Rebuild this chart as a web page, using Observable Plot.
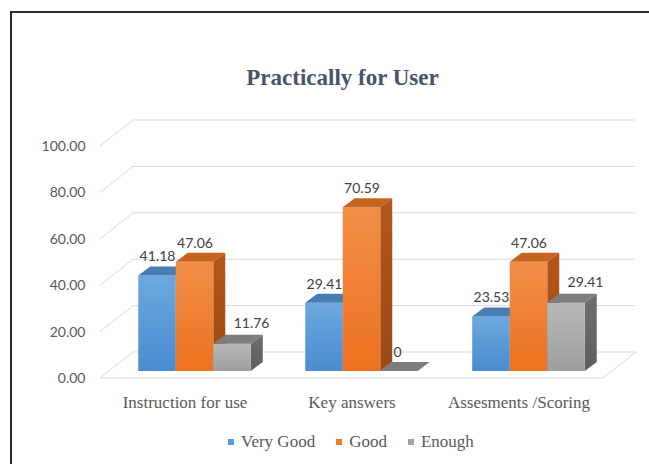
<!DOCTYPE html>
<html><head><meta charset="utf-8">
<script src="https://cdn.jsdelivr.net/npm/d3@7"></script>
<script src="https://cdn.jsdelivr.net/npm/@observablehq/plot@0.6"></script>
<style>
body{margin:0;background:#fff;}
#wrap{position:relative;width:649px;height:464px;overflow:hidden;background:#fff;}
#border{position:absolute;left:10px;top:11px;width:700px;height:500px;border-left:2px solid #2b2b2b;border-top:2px solid #2b2b2b;}
#title{position:absolute;top:66px;left:0;width:685px;text-align:center;font-family:"Liberation Serif";font-weight:bold;font-size:23px;color:#44546A;line-height:23px;}
#chart{position:absolute;left:0;top:100px;}
#legend{position:absolute;top:432px;left:228px;display:flex;align-items:center;font-family:"Liberation Serif";font-size:17px;line-height:20px;color:#595959;white-space:nowrap;}
.item{display:flex;align-items:center;margin-right:21px;}
.sw{width:6px;height:6px;margin-right:7px;display:inline-block;}
</style></head>
<body>
<div id="wrap">
  <div id="border"></div>
  <div id="title">Practically for User</div>
  <div id="chart"></div>
  <div id="legend"></div>
</div>
<script>
// ---- data ----
const categories = ["Instruction for use", "Key answers", "Assesments /Scoring"];
const series = ["Very Good", "Good", "Enough"];
const veryGood = [41.18, 29.41, 23.53];
const good = [47.06, 70.59, 47.06];
const enough = [11.76, 0, 29.41];
const yTicks = [0, 20, 40, 60, 80, 100];

// ---- styles ----
const palette = [
  {base: "#5B9BD5", frontTop: "#6DA8DF", frontBottom: "#4A8CCF", top: "#4A7DB3", side: "#3F6E9F", sideBottom: "#365F8A"},
  {base: "#ED7D31", frontTop: "#F28E48", frontBottom: "#EC7220", top: "#C4641F", side: "#B5561A", sideBottom: "#9C4914"},
  {base: "#A5A5A5", frontTop: "#B8B8B8", frontBottom: "#9E9E9E", top: "#7D7D7D", side: "#6E6E6E", sideBottom: "#5E5E5E"}
];
const seriesValues = [veryGood, good, enough];
const rows = [];
categories.forEach((c, ci) => series.forEach((s, si) => rows.push({category: c, series: s, value: seriesValues[si][ci]})));

const W = 649, H = 320, ML = 100, MR = 26, MT = 39, MB = 49;
const padIn = 0.326, padOut = 0.229;
const step = (W - ML - MR) / (categories.length - padIn + 2 * padOut);
const bw = step * (1 - padIn);
const sub = bw / series.length;
const DX = 12, DY = -9;       // bar depth
const WDX = 33, WDY = -26;    // wall depth relative to axis front plane
const FRONT = 7;              // axis front plane offset below bar plane

function prisms(index, scales) {
  const g = d3.create("svg:g");
  const defs = g.append("defs");
  palette.forEach((p, k) => {
    const lg = defs.append("linearGradient").attr("id", "front" + k).attr("x1", 0).attr("y1", 0).attr("x2", 0).attr("y2", 1);
    lg.append("stop").attr("offset", "0%").attr("stop-color", p.frontTop);
    lg.append("stop").attr("offset", "100%").attr("stop-color", p.frontBottom);
    const sg = defs.append("linearGradient").attr("id", "side" + k).attr("x1", 0).attr("y1", 0).attr("x2", 0).attr("y2", 1);
    sg.append("stop").attr("offset", "0%").attr("stop-color", p.side);
    sg.append("stop").attr("offset", "100%").attr("stop-color", p.sideBottom);
  });
  const y0 = scales.y(0);
  for (const i of index) {
    const d = rows[i];
    const k = series.indexOf(d.series);
    const p = palette[k];
    const xl = scales.x(d.category) + k * sub, xr = xl + sub;
    const yt = scales.y(d.value);
    g.append("path").attr("d", `M${xr},${yt}L${xr + DX},${yt + DY}L${xr + DX},${y0 + DY}L${xr},${y0}Z`).attr("fill", `url(#side${k})`);
    if (y0 - yt > 0.5) g.append("rect").attr("x", xl).attr("y", yt).attr("width", sub).attr("height", y0 - yt).attr("fill", `url(#front${k})`);
    g.append("path").attr("d", `M${xl},${yt}L${xl + DX},${yt + DY}L${xr + DX},${yt + DY}L${xr},${yt}Z`).attr("fill", p.top);
  }
  return g.node();
}

function wall(index, scales, values, dims) {
  const g = d3.create("svg:g").attr("fill", "none").attr("stroke", "#D9D9D9").attr("stroke-width", 1);
  const L = dims.marginLeft, R = dims.width - dims.marginRight;
  for (const v of yTicks) {
    const yf = scales.y(v) + FRONT, yb = yf + WDY;
    g.append("path").attr("d", `M${L},${yf}L${L + WDX},${yb}L${R + WDX - 21},${yb}`);
  }
  const yf0 = scales.y(0) + FRONT;
  g.append("path").attr("d", `M${L},${yf0}L${R - 20},${yf0}L${R - 20 + WDX},${yf0 + WDY}`);
  return g.node();
}

const labelStyle = {fill: "#404040", fontSize: 14, fontFamily: "Lato", dy: -19};
const chart = Plot.plot({
  width: W, height: H,
  marginLeft: ML, marginRight: MR, marginTop: MT, marginBottom: MB,
  style: {fontFamily: "Lato", fontSize: "14px", color: "#595959", background: "transparent", overflow: "visible"},
  x: {type: "band", domain: categories, paddingInner: padIn, paddingOuter: padOut, round: false, label: null},
  y: {domain: [0, 100], label: null},
  marks: [
    Plot.ruleY(yTicks, {y: d => d, render: wall}),
    Plot.axisY({ticks: yTicks, tickFormat: d3.format(".2f"), tickSize: 0, tickPadding: 15, dy: FRONT, fontSize: 14, fontFamily: "Lato", fill: "#595959", label: null}),
    Plot.axisX({tickSize: 0, tickPadding: 24, dx: -10, fontSize: 17, fontFamily: "Liberation Serif", fill: "#595959", label: null}),
    Plot.barY(rows, {x: "category", y: "value", render: prisms}),
    Plot.text(rows.filter(d => d.series === series[0]), {x: "category", y: "value", text: d => String(d.value), dx: -sub, ...labelStyle}),
    Plot.text(rows.filter(d => d.series === series[1]), {x: "category", y: "value", text: d => String(d.value), dx: 0, ...labelStyle}),
    Plot.text(rows.filter(d => d.series === series[2] && d.value > 0), {x: "category", y: "value", text: d => String(d.value), dx: sub + 19, ...labelStyle, dy: -21}),
    Plot.text(rows.filter(d => d.series === series[2] && d.value === 0), {x: "category", y: "value", text: d => String(d.value), dx: sub - 2, ...labelStyle})
  ]
});
document.getElementById("chart").appendChild(chart);

const legend = d3.select("#legend");
series.forEach((s, k) => {
  const it = legend.append("div").attr("class", "item");
  it.append("span").attr("class", "sw").style("background", palette[k].base);
  it.append("span").text(s);
});
</script>
</body></html>
